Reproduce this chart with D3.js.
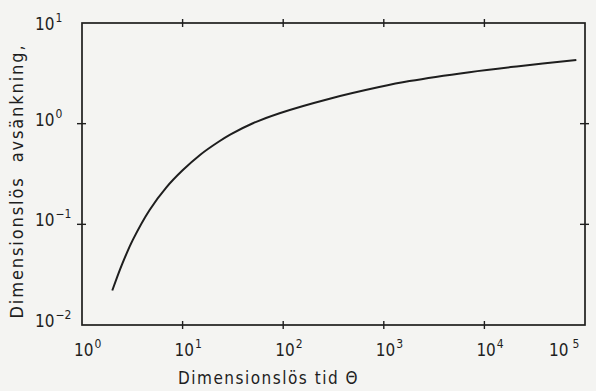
<!DOCTYPE html>
<html>
<head>
<meta charset="utf-8">
<script src="https://cdn.jsdelivr.net/npm/d3@7"></script>
<style>
  body { margin: 0; background: #f4f4f2; }
  svg { display: block; }
  text { font-family: "DejaVu Sans Condensed", "Liberation Sans Narrow", "DejaVu Sans", sans-serif; fill: #1e1e1e; }
</style>
</head>
<body>
<div id="chart"></div>
<script>
// curve
const theta = [2.0, 2.5, 3.2, 4.7, 6.9, 10, 15, 23, 30, 50, 92, 290, 900, 1800, 7100, 22000, 82000];
const drawdown = [0.022, 0.040, 0.070, 0.139, 0.233, 0.344, 0.492, 0.665, 0.783, 1.01, 1.27, 1.77, 2.31, 2.65, 3.25, 3.72, 4.28];

const xExponents = [0, 1, 2, 3, 4, 5];
const yExponents = [-2, -1, 0, 1];

const xTitle = 'Dimensionslös tid Θ';
const yTitle = 'Dimensionslös  avsänkning,';

const W = 596, H = 391;
const plot = { left: 82, right: 585, top: 23, bottom: 325 };

const svg = d3.select('#chart')
    .append('svg')
    .attr('width', W)
    .attr('height', H);

const x = d3.scaleLog()
    .domain([1, 1e5])
    .range([plot.left, plot.right]);

const y = d3.scaleLog()
    .domain([1e-2, 1e1])
    .range([plot.bottom, plot.top]);

const ink = '#1e1e1e';

// frame
svg.append('rect')
    .attr('x', plot.left)
    .attr('y', plot.top)
    .attr('width', plot.right - plot.left)
    .attr('height', plot.bottom - plot.top)
    .attr('fill', 'none')
    .attr('stroke', ink)
    .attr('stroke-width', 1.7);

// ticks crossing the frame on all sides
const xTickVals = xExponents.slice(1, -1).map(e => Math.pow(10, e));
const yTickVals = yExponents.slice(1, -1).map(e => Math.pow(10, e));

[plot.top, plot.bottom].forEach(yy => {
    svg.append('g')
        .selectAll('line')
        .data(xTickVals)
        .enter().append('line')
        .attr('x1', d => x(d))
        .attr('x2', d => x(d))
        .attr('y1', yy - 4)
        .attr('y2', yy + 4)
        .attr('stroke', ink)
        .attr('stroke-width', 1.4);
});

[plot.left, plot.right].forEach(xx => {
    svg.append('g')
        .selectAll('line')
        .data(yTickVals)
        .enter().append('line')
        .attr('x1', xx - 5)
        .attr('x2', xx + 4)
        .attr('y1', d => y(d))
        .attr('y2', d => y(d))
        .attr('stroke', ink)
        .attr('stroke-width', 1.4);
});

// tick labels with superscript exponents
const xLabels = svg.append('g')
    .selectAll('text')
    .data(xExponents)
    .enter().append('text')
    .attr('x', d => x(Math.pow(10, d)) - (d === 5 ? 36 : 8))
    .attr('y', 356)
    .style('font-size', '17px');
xLabels.append('tspan').text('10');
xLabels.append('tspan')
    .attr('dy', -8)
    .attr('dx', d => d === 5 ? 4 : 1)
    .style('font-size', '12px')
    .text(d => d);

const yLabels = svg.append('g')
    .selectAll('text')
    .data(yExponents)
    .enter().append('text')
    .attr('x', 35)
    .attr('y', d => y(Math.pow(10, d)) + (d === 1 ? 7 : 2))
    .style('font-size', '17px');
yLabels.append('tspan').text('10');
yLabels.append('tspan')
    .attr('dy', -8)
    .attr('dx', 1)
    .style('font-size', '12px')
    .text(d => d < 0 ? '\u2212' + Math.abs(d) : d);

// axis titles
svg.append('text')
    .attr('x', (plot.left + plot.right) / 2 - 65)
    .attr('y', 384)
    .attr('text-anchor', 'middle')
    .style('font-size', '17px')
    .style('letter-spacing', '1.5px')
    .text(xTitle);

svg.append('text')
    .attr('transform', 'translate(23,181) rotate(-90)')
    .attr('text-anchor', 'middle')
    .style('font-size', '18px')
    .style('letter-spacing', '1.9px')
    .style('white-space', 'pre')
    .text(yTitle);

// the curve
const points = theta.map((t, i) => [t, drawdown[i]]);
const line = d3.line()
    .x(d => x(d[0]))
    .y(d => y(d[1]))
    .curve(d3.curveCatmullRom.alpha(0.5));

svg.append('path')
    .datum(points)
    .attr('d', line)
    .attr('fill', 'none')
    .attr('stroke', ink)
    .attr('stroke-width', 2);
</script>
</body>
</html>
